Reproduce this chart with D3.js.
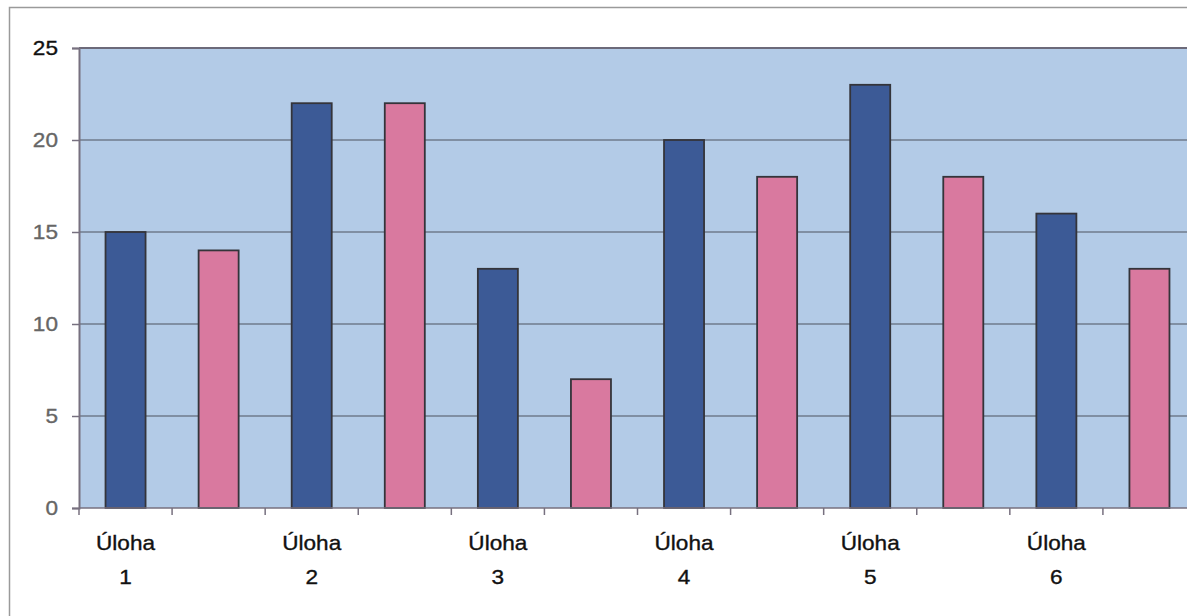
<!DOCTYPE html>
<html>
<head>
<meta charset="utf-8">
<script src="https://cdn.jsdelivr.net/npm/d3@7"></script>
<style>
  html, body { margin: 0; padding: 0; background: #ffffff; }
  svg { display: block; }
  text { font-family: "Liberation Sans", Arial, sans-serif; }
</style>
</head>
<body>
<svg id="chart" width="1187" height="616"></svg>
<script>
// Task names and the two counts per task
const tasks = ["Úloha 1", "Úloha 2", "Úloha 3", "Úloha 4", "Úloha 5", "Úloha 6"];
const blueValues = [15, 22, 13, 20, 23, 16];
const pinkValues = [14, 22, 7, 18, 18, 13];
const yTicks = [0, 5, 10, 15, 20, 25];

const W = 1187, H = 616;
const plot = { left: 79, top: 48, right: 1196, bottom: 508 };

const svg = d3.select("#chart");

// outer chart frame
svg.append("rect")
  .attr("x", 9.5).attr("y", 7.5)
  .attr("width", W + 20).attr("height", H)
  .attr("fill", "#ffffff")
  .attr("stroke", "#9a9a9a").attr("stroke-width", 1.5);

// each bar gets its own slot: blue, pink, blue, pink ...
const slots = [];
tasks.forEach((t, i) => {
  slots.push({ key: t + "|a", task: t, value: blueValues[i], kind: "blue" });
  slots.push({ key: t + "|b", task: t, value: pinkValues[i], kind: "pink" });
});

const x = d3.scaleBand()
  .domain(slots.map(d => d.key))
  .range([plot.left, plot.right])
  .paddingInner(0.57)
  .paddingOuter(0.285);

const y = d3.scaleLinear().domain([0, 25]).range([plot.bottom, plot.top]);

// plot background
svg.append("rect")
  .attr("x", plot.left).attr("y", plot.top)
  .attr("width", plot.right - plot.left).attr("height", plot.bottom - plot.top)
  .attr("fill", "#b3cbe7");

// gridlines
svg.append("g")
  .selectAll("line")
  .data(yTicks.filter(v => v > 0 && v < 25))
  .join("line")
  .attr("x1", plot.left).attr("x2", plot.right)
  .attr("y1", d => y(d)).attr("y2", d => y(d))
  .attr("stroke", "#6f7b8c").attr("stroke-width", 1.6);

// top border of the plot
svg.append("line")
  .attr("x1", plot.left).attr("x2", plot.right)
  .attr("y1", y(25)).attr("y2", y(25))
  .attr("stroke", "#6c6a7a").attr("stroke-width", 2);

// bars
const colors = { blue: "#3c5a96", pink: "#d9799f" };
svg.append("g")
  .selectAll("rect")
  .data(slots)
  .join("rect")
  .attr("x", d => x(d.key))
  .attr("y", d => y(d.value))
  .attr("width", x.bandwidth())
  .attr("height", d => y(0) - y(d.value))
  .attr("fill", d => colors[d.kind])
  .attr("stroke", "#34343a").attr("stroke-width", 1.8);

// y axis
const yAxis = d3.axisLeft(y).tickValues(yTicks).tickSize(7).tickPadding(14);
const gy = svg.append("g").attr("transform", `translate(${plot.left},0)`).call(yAxis);
gy.select(".domain").attr("stroke", "#77707f").attr("stroke-width", 2);
gy.selectAll(".tick line").attr("stroke", "#77707f").attr("stroke-width", 1.5);
gy.selectAll(".tick text")
  .attr("font-size", 20)
  .attr("fill", d => d === 25 ? "#111111" : "#666666")
  .attr("stroke", d => d === 25 ? "#111111" : "#666666")
  .attr("stroke-width", 0.35)
  .attr("transform", function () {
    const xx = +d3.select(this).attr("x");
    return `translate(${xx},0) scale(1.13,1) translate(${-xx},0)`;
  });

// x axis baseline with ticks at slot boundaries
const step = x.step();
const boundaries = d3.range(slots.length + 1).map(i => plot.left + i * step);
svg.append("line")
  .attr("x1", plot.left).attr("x2", plot.right)
  .attr("y1", y(0)).attr("y2", y(0))
  .attr("stroke", "#77707f").attr("stroke-width", 1.6);
svg.append("g")
  .selectAll("line")
  .data(boundaries)
  .join("line")
  .attr("x1", d => d).attr("x2", d => d)
  .attr("y1", y(0)).attr("y2", y(0) + 7)
  .attr("stroke", "#77707f").attr("stroke-width", 1.5);

// category labels, two lines under the first slot of each task
const labels = svg.append("g")
  .selectAll("g")
  .data(slots.filter(d => d.kind === "blue"))
  .join("g")
  .attr("transform", d => `translate(${x(d.key) + x.bandwidth() / 2},0) scale(1.13,1)`);
labels.append("text")
  .attr("text-anchor", "middle")
  .attr("y", 550)
  .attr("font-size", 20)
  .attr("fill", "#111111")
  .attr("stroke", "#111111").attr("stroke-width", 0.35)
  .text(d => d.task.split(" ")[0]);
labels.append("text")
  .attr("text-anchor", "middle")
  .attr("y", 584)
  .attr("font-size", 20)
  .attr("fill", "#111111")
  .attr("stroke", "#111111").attr("stroke-width", 0.35)
  .text(d => d.task.split(" ")[1]);
</script>
</body>
</html>
